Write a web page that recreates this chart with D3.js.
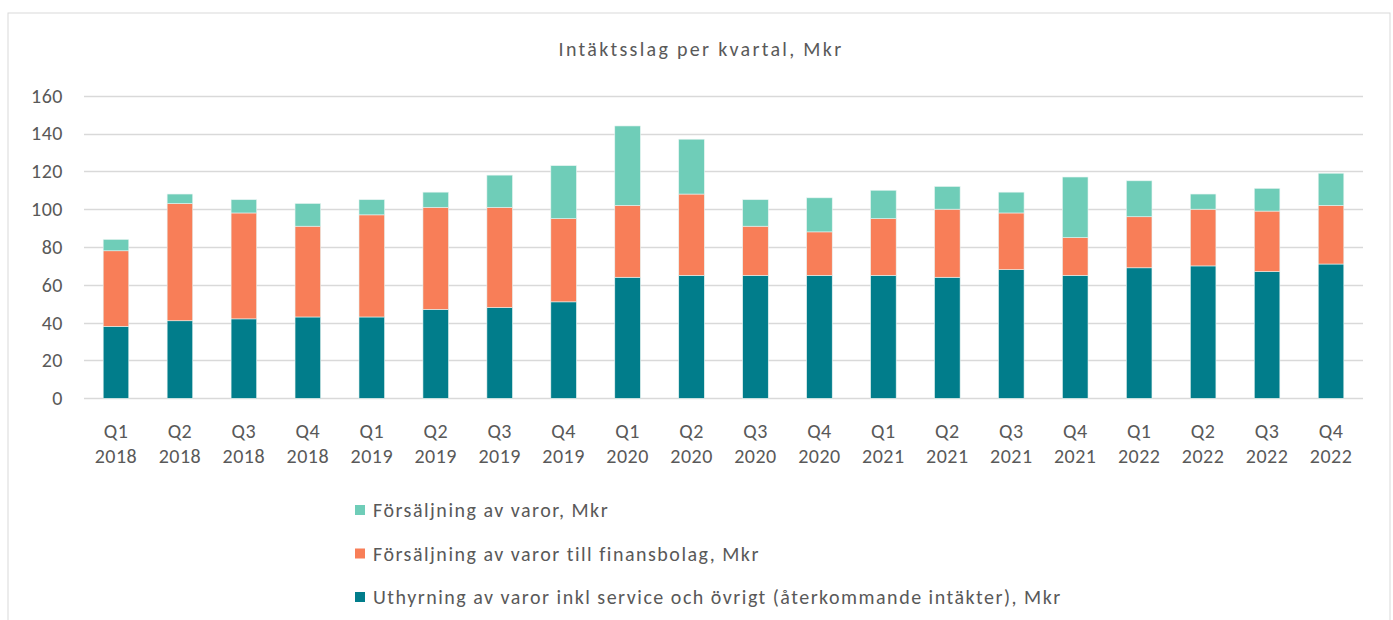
<!DOCTYPE html>
<html>
<head>
<meta charset="utf-8">
<script src="https://cdn.jsdelivr.net/npm/d3@7"></script>
<style>
  body { margin: 0; background: #fff; }
  text { font-family: Carlito, Calibri, Lato, "Open Sans", sans-serif; fill: #595959; }
</style>
</head>
<body>
<svg id="chart" width="1393" height="620"></svg>
<script>
const quarters = ["Q1", "Q2", "Q3", "Q4", "Q1", "Q2", "Q3", "Q4", "Q1", "Q2", "Q3", "Q4", "Q1", "Q2", "Q3", "Q4", "Q1", "Q2", "Q3", "Q4"];
const years = ["2018", "2018", "2018", "2018", "2019", "2019", "2019", "2019", "2020", "2020", "2020", "2020", "2021", "2021", "2021", "2021", "2022", "2022", "2022", "2022"];

// Mkr per quarter
const uthyrning = [38, 41, 42, 43, 43, 47, 48, 51, 64, 65, 65, 65, 65, 64, 68, 65, 69, 70, 67, 71];
const finansbolag = [40, 62, 56, 48, 54, 54, 53, 44, 38, 43, 26, 23, 30, 36, 30, 20, 27, 30, 32, 31];
const forsaljning = [6, 5, 7, 12, 8, 8, 17, 28, 42, 29, 14, 18, 15, 12, 11, 32, 19, 8, 12, 17];

const yTicks = [0, 20, 40, 60, 80, 100, 120, 140, 160];

const seriesNames = [
    "Uthyrning av varor inkl service och övrigt (återkommande intäkter), Mkr",
    "Försäljning av varor till finansbolag, Mkr",
    "Försäljning av varor, Mkr"
];
const colors = ["#017d8b", "#f87e58", "#6fcdb8"];

const svg = d3.select("#chart");

svg.append("rect")
    .attr("x", 8).attr("y", 13)
    .attr("width", 1382).attr("height", 640)
    .attr("fill", "#fff")
    .attr("stroke", "#d9d9d9");

svg.append("text")
    .attr("x", 701).attr("y", 56)
    .attr("text-anchor", "middle")
    .attr("font-size", 20)
    .attr("letter-spacing", 2.3)
    .text("Intäktsslag per kvartal, Mkr");

const table = quarters.map((q, i) => ({
    key: i,
    s0: uthyrning[i],
    s1: finansbolag[i],
    s2: forsaljning[i]
}));

const x = d3.scaleBand()
    .domain(d3.range(quarters.length))
    .range([84, 1363])
    .paddingInner(0.6)
    .paddingOuter(0.3);

const y = d3.scaleLinear()
    .domain([0, 160])
    .range([398.3, 95.7]);

// gridlines
svg.append("g")
    .selectAll("line")
    .data(yTicks)
    .enter().append("line")
    .attr("x1", 84).attr("x2", 1363)
    .attr("y1", d => Math.round(y(d)) + 0.5)
    .attr("y2", d => Math.round(y(d)) + 0.5)
    .attr("stroke", "#d9d9d9")
    .attr("stroke-width", 1.5);

const yAxis = svg.append("g")
    .attr("transform", "translate(63,0)")
    .call(d3.axisLeft(y).tickValues(yTicks).tickSize(0).tickPadding(0));
yAxis.select(".domain").remove();
yAxis.selectAll("text")
    .attr("font-size", 20)
    .attr("font-family", null)
    .attr("letter-spacing", 0.5)
    .attr("fill", "#595959");

const stack = d3.stack().keys(["s0", "s1", "s2"]);
const layers = stack(table);

svg.append("g")
    .selectAll("g")
    .data(layers)
    .enter().append("g")
    .attr("fill", (d, i) => colors[i])
    .selectAll("rect")
    .data(d => d)
    .enter().append("rect")
    .attr("x", d => x(d.data.key))
    .attr("width", x.bandwidth())
    .attr("y", d => y(d[1]))
    .attr("height", d => y(d[0]) - y(d[1]))
    .attr("stroke", "#e6f4f1")
    .attr("stroke-width", 0.6);

// category labels (two lines)
const cat = svg.append("g")
    .selectAll("text")
    .data(quarters)
    .enter().append("text")
    .attr("text-anchor", "middle")
    .attr("font-size", 20)
    .attr("letter-spacing", 0.5)
    .attr("x", (d, i) => x(i) + x.bandwidth() / 2)
    .attr("y", 438);
cat.append("tspan").text(d => d);
cat.append("tspan")
    .attr("x", (d, i) => x(i) + x.bandwidth() / 2)
    .attr("dy", 25)
    .text((d, i) => years[i]);

// legend, top item is the top stack segment
const legendOrder = [2, 1, 0];
const legend = svg.append("g")
    .selectAll("g")
    .data(legendOrder)
    .enter().append("g")
    .attr("transform", (d, i) => `translate(355,${510 + i * 43.5})`);
legend.append("rect")
    .attr("x", 0).attr("y", -5)
    .attr("width", 10).attr("height", 10)
    .attr("fill", d => colors[d]);
legend.append("text")
    .attr("x", 18).attr("y", 7)
    .attr("font-size", 20)
    .attr("letter-spacing", 1.5)
    .text(d => seriesNames[d]);
</script>
</body>
</html>
